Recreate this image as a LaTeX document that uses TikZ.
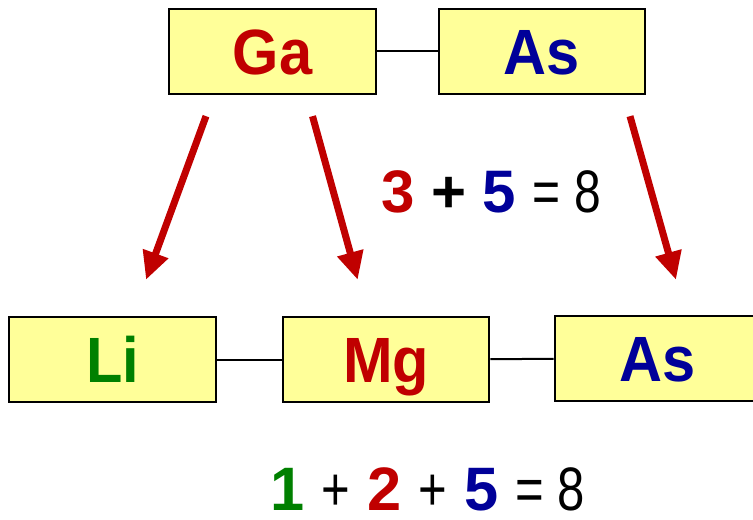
\documentclass[tikz,border=0pt]{standalone}
\usepackage{fontspec}
\setmainfont{Liberation Sans}
\newfontfamily\narrowsans[FakeStretch=0.8]{Liberation Sans}
\newfontfamily\narrowbold[FakeStretch=0.93]{Liberation Sans Bold}
\usepackage{tikz}
\usetikzlibrary{arrows.meta,positioning,calc}
\usepackage{xcolor}
\definecolor{grpthree}{HTML}{C00000}
\definecolor{grpfive}{HTML}{000099}
\definecolor{grpone}{HTML}{008000}
\definecolor{cellfill}{HTML}{FFFF99}

\begin{document}
\begin{tikzpicture}[x=0.75pt, y=-0.75pt,
    atom/.style={draw, line width=1.5pt, fill=cellfill, minimum width=155pt, minimum height=64pt,
      inner sep=0pt, text height=34pt, text depth=0pt, font=\fontsize{48}{48}\narrowbold},
    bond/.style={line width=1.5pt},
    substarrow/.style={grpthree, line width=5.25pt, -{Triangle[length=21pt, width=19pt]}},
    count/.style={anchor=base, inner sep=0pt, text depth=0pt}]
  \useasboundingbox (0,0) rectangle (753,520);
  \clip (0,0) rectangle (753,520);
  % III-V pair
  \node[atom] (ga)  at (272.5,51.5) {\textcolor{grpthree}{Ga}};
  \node[atom] (ast) at (542,51.5)   {\textcolor{grpfive}{As}};
  \draw[bond] (ga) -- (ast);
  % I-II-V chain
  \node[atom] (li)  at (112.5,359.5) {\textcolor{grpone}{Li}};
  \node[atom] (mg)  at (386,359.5)   {\textcolor{grpthree}{Mg}};
  \node[atom] (asb) at (658,358.5)   {\textcolor{grpfive}{As}};
  \draw[bond] (li) -- (mg);
  \draw[bond] (mg) -- (asb);
  % arrows
  \draw[substarrow] ([shift={(-66.5,21)}]ga.south) -- ([shift={(33.5,-36)}]li.north);
  \draw[substarrow] ([shift={(40,21)}]ga.south) -- ([shift={(-28.3,-36)}]mg.north);
  \draw[substarrow] ([shift={(88,21)}]ast.south) -- ([shift={(18,-35)}]asb.north);
  % electron counts
  \node[count, font=\fontsize{45}{45}\selectfont] (sumtop) at (491,213)
    {\textbf{\textcolor{grpthree}{3}} \textbf{+} \textbf{\textcolor{grpfive}{5}} {\narrowsans = 8}};
  \node[count, font=\fontsize{46}{46}\selectfont] (sumbot) at (428,510)
    {\textbf{\textcolor{grpone}{1}} {\narrowsans +} \textbf{\textcolor{grpthree}{2}} {\narrowsans +} \textbf{\textcolor{grpfive}{5}} {\narrowsans = 8}};
\end{tikzpicture}
\end{document}
